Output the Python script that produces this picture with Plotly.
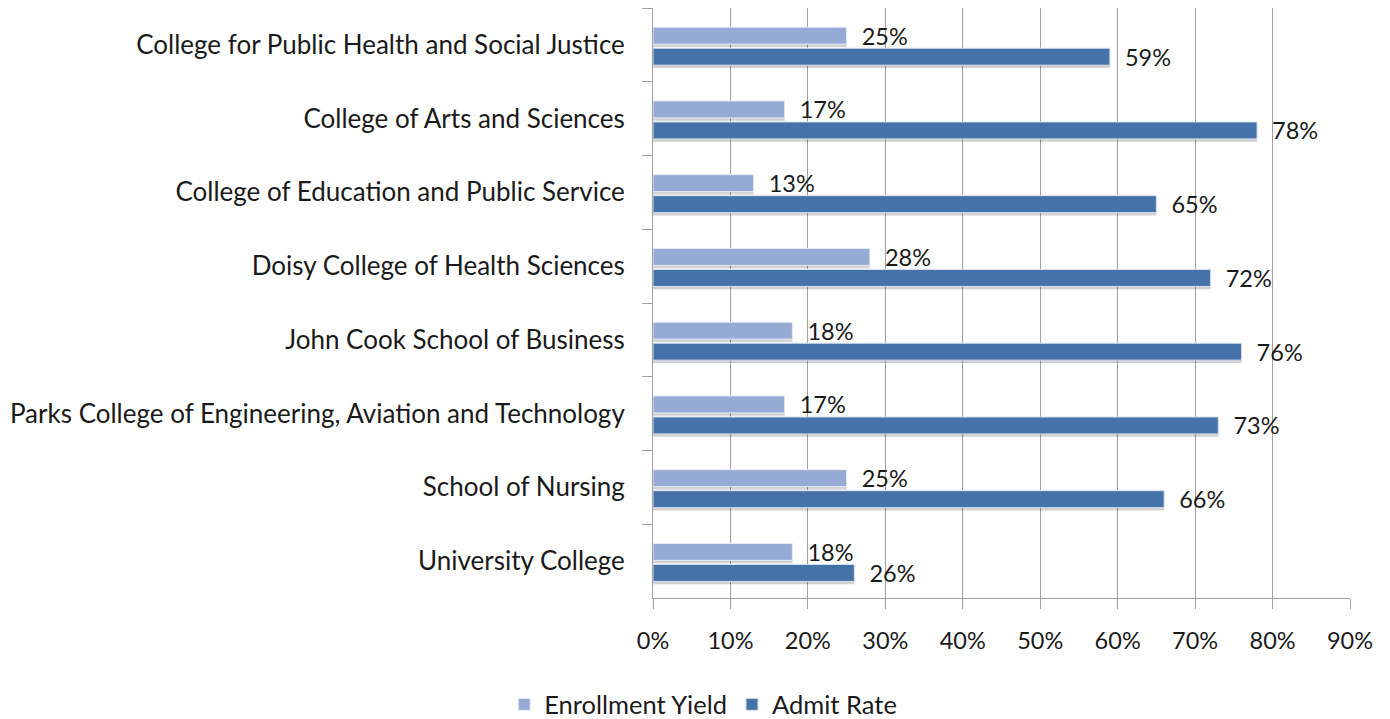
import plotly.graph_objects as go

categories = [
    "College for Public Health and Social Justice",
    "College of Arts and Sciences",
    "College of Education and Public Service",
    "Doisy College of Health Sciences",
    "John Cook School of Business",
    "Parks College of Engineering, Aviation and Technology",
    "School of Nursing",
    "University College",
]
enrollment_yield = [25, 17, 13, 28, 18, 17, 25, 18]
admit_rate = [59, 78, 65, 72, 76, 73, 66, 26]

FONT = "Lato"
FS_CAT = 26
FS_NUM = 23.5
TXT = "#1a1a1a"
LIGHT = "#95AAD4"
DARK = "#4572A8"
BW = 0.23
OFF_Y = -0.24
OFF_A = 0.045
SH = 0.04

fig = go.Figure()
# shadows
for vals, off in [(enrollment_yield, OFF_Y), (admit_rate, OFF_A)]:
    fig.add_trace(go.Bar(
        x=vals, y=categories, orientation="h",
        offset=off + SH, width=BW,
        marker=dict(color="rgba(0,0,0,0.18)", line=dict(width=0)),
        showlegend=False, hoverinfo="skip",
    ))
fig.add_trace(go.Bar(
    name="Enrollment Yield", x=enrollment_yield, y=categories, orientation="h",
    offset=OFF_Y, width=BW,
    marker=dict(color=LIGHT, line=dict(color="#E8ECF5", width=1)),
    text=[f"  {v}%" for v in enrollment_yield], textposition="outside",
    constraintext="none",
    textfont=dict(family=FONT, size=FS_NUM, color=TXT), cliponaxis=False,
))
fig.add_trace(go.Bar(
    name="Admit Rate", x=admit_rate, y=categories, orientation="h",
    offset=OFF_A, width=BW,
    marker=dict(color=DARK, line=dict(color="#D9E1EE", width=1)),
    text=[f"  {v}%" for v in admit_rate], textposition="outside",
    constraintext="none",
    textfont=dict(family=FONT, size=FS_NUM, color=TXT), cliponaxis=False,
))

fig.update_layout(
    width=1382, height=711,
    margin=dict(l=645, r=40, t=0, b=121, autoexpand=False),
    barmode="overlay",
    plot_bgcolor="white", paper_bgcolor="white",
    font=dict(family=FONT, size=FS_CAT, color=TXT),
    legend=dict(orientation="h", x=0.072, xref="paper", y=0.02, yref="container",
                yanchor="middle", xanchor="center",
                font=dict(family=FONT, size=25.5, color=TXT),
                traceorder="normal"),
    xaxis=dict(range=[0, 90], dtick=10, ticksuffix="%", showgrid=True,
               gridcolor="#A0A0A0", gridwidth=1, showline=True, linecolor="#A0A0A0",
               ticks="outside", ticklen=10, tickcolor="#A0A0A0", zeroline=False,
               automargin=False, ticklabelstandoff=12,
               tickfont=dict(family=FONT, size=FS_NUM, color=TXT)),
    yaxis=dict(categoryorder="array", categoryarray=categories, autorange="reversed",
               showgrid=False, showline=True, linecolor="#A0A0A0",
               ticks="outside", ticklen=10, tickcolor="#A0A0A0", tickson="boundaries",
               ticklabelstandoff=22, automargin=False,
               tickfont=dict(family=FONT, size=FS_CAT, color=TXT)),
)

fig.write_html("out.html")
